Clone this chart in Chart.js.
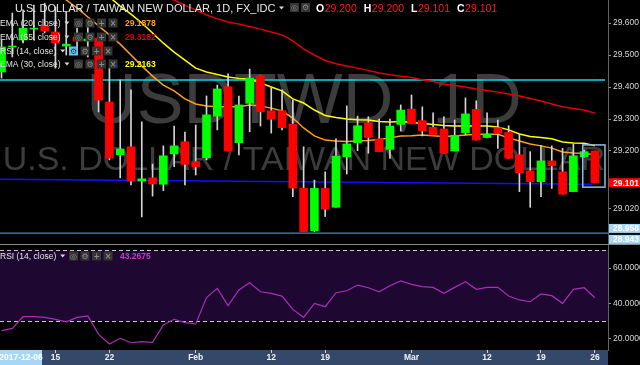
<!DOCTYPE html>
<html>
<head>
<meta charset="utf-8">
<script src="https://cdn.jsdelivr.net/npm/chart.js@4.4.1/dist/chart.umd.min.js"></script>
<style>
  html, body { margin: 0; padding: 0; background: #000; }
  #wrap { position: relative; width: 640px; height: 365px; overflow: hidden; background: #000; }
  canvas { position: absolute; left: 0; }
  #price { top: 0; }
  #rsi { top: 246px; }
</style>
</head>
<body>
<div id="wrap">
  <canvas id="price" width="640" height="246"></canvas>
  <canvas id="rsi" width="640" height="119"></canvas>
</div>
<script>
const FONT = '"Liberation Sans", Arial, sans-serif';

// daily candles, USD/TWD (FX_IDC), 2018-01-08 .. 2018-03-26
const dates = [
  '2018-01-08', '2018-01-09', '2018-01-10', '2018-01-11', '2018-01-12', '2018-01-15', '2018-01-16', '2018-01-17',
  '2018-01-18', '2018-01-19', '2018-01-22', '2018-01-23', '2018-01-24', '2018-01-25', '2018-01-26', '2018-01-29',
  '2018-01-30', '2018-01-31', '2018-02-01', '2018-02-02', '2018-02-05', '2018-02-06', '2018-02-07', '2018-02-08',
  '2018-02-09', '2018-02-12', '2018-02-13', '2018-02-14', '2018-02-15', '2018-02-16', '2018-02-19', '2018-02-20',
  '2018-02-21', '2018-02-22', '2018-02-23', '2018-02-26', '2018-02-27', '2018-02-28', '2018-03-01', '2018-03-02',
  '2018-03-05', '2018-03-06', '2018-03-07', '2018-03-08', '2018-03-09', '2018-03-12', '2018-03-13', '2018-03-14',
  '2018-03-15', '2018-03-16', '2018-03-19', '2018-03-20', '2018-03-21', '2018-03-22', '2018-03-23', '2018-03-26'
];
const opens = [
  29.447, 29.525, 29.547, 29.581, 29.591, 29.572, 29.528, 29.556, 29.544, 29.553,
  29.353, 29.188, 29.213, 29.106, 29.116, 29.096, 29.191, 29.229, 29.167, 29.179,
  29.309, 29.401, 29.226, 29.349, 29.435, 29.326, 29.326, 29.284, 29.084, 28.951,
  29.083, 29.024, 29.182, 29.226, 29.288, 29.238, 29.205, 29.283, 29.331, 29.295,
  29.274, 29.269, 29.200, 29.257, 29.330, 29.242, 29.273, 29.258, 29.188, 29.138,
  29.104, 29.169, 29.135, 29.073, 29.182, 29.200
];
const highs = [
  29.547, 29.631, 29.641, 29.656, 29.662, 29.650, 29.634, 29.584, 29.588, 29.563,
  29.459, 29.422, 29.391, 29.291, 29.159, 29.216, 29.278, 29.259, 29.281, 29.372,
  29.406, 29.441, 29.372, 29.456, 29.435, 29.397, 29.391, 29.359, 29.213, 29.109,
  29.135, 29.238, 29.341, 29.309, 29.307, 29.300, 29.300, 29.344, 29.375, 29.338,
  29.319, 29.307, 29.297, 29.366, 29.357, 29.319, 29.297, 29.279, 29.252, 29.198,
  29.218, 29.216, 29.208, 29.222, 29.203, 29.200
];
const lows = [
  29.428, 29.494, 29.538, 29.547, 29.569, 29.459, 29.500, 29.516, 29.494, 29.322,
  29.172, 29.116, 29.094, 28.994, 29.059, 29.076, 29.151, 29.094, 29.125, 29.172,
  29.266, 29.200, 29.188, 29.260, 29.278, 29.256, 29.266, 29.057, 28.948, 28.948,
  28.995, 29.024, 29.128, 29.201, 29.193, 29.198, 29.177, 29.263, 29.285, 29.247,
  29.250, 29.193, 29.200, 29.250, 29.234, 29.241, 29.208, 29.177, 29.073, 29.024,
  29.057, 29.083, 29.065, 29.073, 29.181, 29.101
];
const closes = [
  29.525, 29.528, 29.584, 29.584, 29.575, 29.538, 29.534, 29.544, 29.550, 29.359,
  29.178, 29.206, 29.106, 29.113, 29.097, 29.185, 29.216, 29.158, 29.151, 29.313,
  29.394, 29.200, 29.344, 29.428, 29.323, 29.299, 29.273, 29.084, 28.948, 29.083,
  29.018, 29.184, 29.222, 29.279, 29.242, 29.198, 29.278, 29.328, 29.285, 29.263,
  29.250, 29.193, 29.249, 29.316, 29.234, 29.253, 29.255, 29.177, 29.132, 29.104,
  29.169, 29.154, 29.065, 29.185, 29.198, 29.101
];
const ema20 = [
  null, null, null, null, null, 29.703, 29.672, 29.647, 29.619, 29.591,
  29.563, 29.534, 29.500, 29.466, 29.434, 29.406, 29.388, 29.363, 29.347, 29.341,
  29.338, 29.338, 29.338, 29.344, 29.341, 29.334, 29.325, 29.303, 29.272, 29.247,
  29.234, 29.231, 29.230, 29.231, 29.233, 29.236, 29.241, 29.247, 29.248, 29.250,
  29.248, 29.245, 29.247, 29.250, 29.252, 29.252, 29.252, 29.241, 29.231, 29.222,
  29.216, 29.209, 29.197, 29.194, 29.193, 29.1878
];
const ema30 = [
  null, null, null, null, null, null, null, null, null, null,
  29.681, 29.653, 29.628, 29.600, 29.569, 29.537, 29.509, 29.484, 29.459, 29.447,
  29.439, 29.431, 29.427, 29.425, 29.413, 29.400, 29.388, 29.363, 29.350, 29.328,
  29.311, 29.305, 29.300, 29.298, 29.297, 29.292, 29.291, 29.292, 29.289, 29.286,
  29.283, 29.280, 29.278, 29.278, 29.278, 29.278, 29.275, 29.266, 29.253, 29.245,
  29.242, 29.238, 29.228, 29.225, 29.224, 29.2163
];
const ema55 = [
  null, null, null, null, null, null, null, null, null, null,
  null, null, null, null, null, 29.681, 29.672, 29.656, 29.641, 29.625,
  29.613, 29.603, 29.597, 29.589, 29.581, 29.572, 29.563, 29.544, 29.519, 29.500,
  29.483, 29.473, 29.466, 29.459, 29.452, 29.444, 29.438, 29.434, 29.430, 29.423,
  29.417, 29.409, 29.405, 29.400, 29.394, 29.389, 29.384, 29.378, 29.372, 29.364,
  29.356, 29.347, 29.338, 29.333, 29.328, 29.3182
];
const rsi14 = [
  24.7, 26.0, 32.6, 32.6, 32.2, 31.1, 29.7, 32.2, 33.0, 22.6,
  17.2, 20.4, 17.9, 18.5, 18.1, 27.9, 31.1, 29.2, 28.5, 43.3,
  48.5, 38.8, 47.6, 51.7, 46.6, 45.7, 44.2, 36.7, 32.2, 40.1,
  38.2, 46.1, 47.2, 50.4, 48.9, 46.6, 50.0, 52.7, 50.8, 49.5,
  49.1, 45.7, 49.1, 52.3, 48.0, 49.1, 49.1, 44.2, 42.0, 41.0,
  45.4, 44.4, 40.1, 48.0, 48.9, 43.2675
];

// axis ticks as shown
const tickIdx = [5, 10, 18, 25, 30, 38, 45, 50, 55];
const tickLabels = ['15', '22', 'Feb', '12', '19', 'Mar', '12', '19', '26'];
const priceTicks = [29.02, 29.2, 29.3, 29.4, 29.5, 29.6];
const rsiTicks = [20, 40, 60];

// drawn levels (index, price)
const resistance = [[-0.14, 29.422], [55.93, 29.422]];
const trendLine = [[-0.14, 29.1115], [54.8, 29.096]];
const support = [[-0.14, 28.943], [56.21, 28.943]];
const markedLow = 28.958;
const lastBox = [53.87, 55.93, 29.219, 29.087];

const X_MIN = -0.14, X_MAX = 56.21;
const UP = '#00ff00', DOWN = '#ff0000';

const pts = arr => arr.map((v, i) => ({ x: i, y: v }));
const seg = arr => arr.map(p => ({ x: p[0], y: p[1] }));
const noPad = s => { s.paddingTop = 0; s.paddingBottom = 0; s.paddingLeft = 0; s.paddingRight = 0; };

function tri(ctx, x, y) {
  ctx.fillStyle = '#d8d8d8';
  ctx.beginPath();
  ctx.moveTo(x, y - 1.5); ctx.lineTo(x + 5, y - 1.5); ctx.lineTo(x + 2.5, y + 1.5);
  ctx.closePath(); ctx.fill();
}

function icon(ctx, x, y, glyph, bg) {
  ctx.save();
  ctx.fillStyle = bg || '#353535';
  ctx.fillRect(x, y - 4.5, 9, 9);
  ctx.fillStyle = bg ? '#20343f' : '#8a8a8a';
  ctx.font = 'bold 8px "DejaVu Sans", sans-serif';
  ctx.textAlign = 'center';
  ctx.textBaseline = 'middle';
  ctx.fillText(glyph, x + 4.5, y + 0.5);
  ctx.restore();
}

function tag(ctx, y, text, bg) {
  ctx.save();
  ctx.fillStyle = bg;
  ctx.fillRect(609, y - 4.5, 31, 9);
  ctx.fillStyle = '#ffffff';
  ctx.font = 'bold 8.5px ' + FONT;
  ctx.textAlign = 'left';
  ctx.textBaseline = 'middle';
  ctx.fillText(text, 613, y + 0.5);
  ctx.restore();
}

function legendRow(ctx, label, ry, icons, x0, value, col) {
  ctx.textAlign = 'left';
  ctx.textBaseline = 'alphabetic';
  ctx.font = '8.5px ' + FONT;
  ctx.fillStyle = '#e4e4e4';
  ctx.fillText(label, 0, ry + 3);
  tri(ctx, ctx.measureText(label).width + 4, ry);
  icons.forEach((g, k) => icon(ctx, x0 + k * 11.5, ry, g, k === 0 && !value ? '#5cc6ef' : null));
  if (value) {
    ctx.font = 'bold 8.5px ' + FONT;
    ctx.fillStyle = col;
    ctx.fillText(value, x0 + 51, ry + 3);
  }
}

const priceDeco = {
  id: 'priceDeco',
  beforeDatasetsDraw(chart) {
    const ctx = chart.ctx;
    ctx.save();
    ctx.fillStyle = '#3c3c3c';
    ctx.textAlign = 'center';
    ctx.textBaseline = 'alphabetic';
    ctx.font = '70px ' + FONT;
    ctx.fillText('USDTWD, 1D', 304, 123);
    ctx.font = '34px ' + FONT;
    ctx.fillText('U.S. DOLLAR / TAIWAN NEW DOLLAR', 304, 170);
    ctx.restore();
  },
  afterDatasetsDraw(chart) {
    const { ctx, scales: { x, y } } = chart;
    ctx.save();
    ctx.strokeStyle = '#8fbbdf';
    ctx.lineWidth = 1.5;
    const x0 = x.getPixelForValue(lastBox[0]), x1 = x.getPixelForValue(lastBox[1]);
    const y0 = y.getPixelForValue(lastBox[2]), y1 = y.getPixelForValue(lastBox[3]);
    ctx.strokeRect(x0, y0, x1 - x0, y1 - y0);
    ctx.restore();
  },
  afterDraw(chart) {
    const { ctx, scales: { y } } = chart;
    ctx.save();
    // price tags on the axis
    const last = closes[closes.length - 1];
    tag(ctx, y.getPixelForValue(last), last.toFixed(3), '#ff0000');
    const yLow = y.getPixelForValue(markedLow);
    tag(ctx, yLow, markedLow.toFixed(3), '#a6d6f3');
    tag(ctx, Math.max(y.getPixelForValue(support[0][1]), yLow + 11), support[0][1].toFixed(3), '#a6d6f3');

    // pane separator
    ctx.strokeStyle = '#8a8a8a';
    ctx.lineWidth = 1;
    ctx.beginPath(); ctx.moveTo(0, 244.5); ctx.lineTo(640, 244.5); ctx.stroke();

    // header
    ctx.textAlign = 'left';
    ctx.textBaseline = 'alphabetic';
    ctx.font = '11px ' + FONT;
    ctx.fillStyle = '#e8e8e8';
    ctx.fillText('U.S. DOLLAR / TAIWAN NEW DOLLAR, 1D, FX_IDC', 15, 12);
    tri(ctx, 279, 8);
    icon(ctx, 290, 7.5, '\u25CE');
    icon(ctx, 301, 7.5, '\u2699');
    let cx = 316;
    const ohlc = [['O', opens], ['H', highs], ['L', lows], ['C', closes]];
    ohlc.forEach(([k, arr]) => {
      ctx.textAlign = 'left';
      ctx.textBaseline = 'alphabetic';
      ctx.font = 'bold 10.5px ' + FONT;
      ctx.fillStyle = '#ffffff';
      ctx.fillText(k, cx, 12);
      cx += ctx.measureText(k).width + 0.5;
      ctx.font = '10.5px ' + FONT;
      ctx.fillStyle = '#ff1a1a';
      const t = arr[arr.length - 1].toFixed(3);
      ctx.fillText(t, cx, 12);
      cx += ctx.measureText(t).width + 7;
    });

    // indicator legend
    const ic = ['\u25CE', '\u2699', '+', '\u00D7'];
    legendRow(ctx, 'EMA (20, close)', 23, ic, 74, ema20[ema20.length - 1].toFixed(4), '#ff9f1a');
    legendRow(ctx, 'EMA (55, close)', 37, ic, 74, ema55[ema55.length - 1].toFixed(4), '#e00000');
    legendRow(ctx, 'RSI (14, close)', 51, ['\u2699', '\u2699', '+', '\u00D7'], 69, null, null);
    legendRow(ctx, 'EMA (30, close)', 64, ic, 74, ema30[ema30.length - 1].toFixed(4), '#ffff00');
    ctx.restore();
  }
};

new Chart(document.getElementById('price').getContext('2d'), {
  type: 'bar',
  data: {
    datasets: [
      {
        label: 'bodies',
        data: opens.map((o, i) => ({ x: i, y: [o, closes[i]] })),
        backgroundColor: opens.map((o, i) => closes[i] >= o ? UP : DOWN),
        barThickness: 8,
        minBarLength: 1,
        grouped: false,
        order: 1
      },
      {
        label: 'wicks',
        data: lows.map((l, i) => ({ x: i, y: [l, highs[i]] })),
        backgroundColor: '#d4d4d4',
        barThickness: 1,
        grouped: false,
        order: 2
      },
      { type: 'line', label: 'EMA 20', data: pts(ema20), borderColor: '#ff9f1a', borderWidth: 1.5, pointRadius: 0, order: 5 },
      { type: 'line', label: 'EMA 30', data: pts(ema30), borderColor: '#ffff00', borderWidth: 1.5, pointRadius: 0, order: 6 },
      { type: 'line', label: 'EMA 55', data: pts(ema55), borderColor: '#e00000', borderWidth: 1.5, pointRadius: 0, order: 7 },
      { type: 'line', label: 'resistance', data: seg(resistance), borderColor: '#00e1ee', borderWidth: 1.5, pointRadius: 0, order: 8 },
      { type: 'line', label: 'trend', data: seg(trendLine), borderColor: '#1010ff', borderWidth: 1.5, pointRadius: 0, order: 8 },
      { type: 'line', label: 'support', data: seg(support), borderColor: '#4f7fbf', borderWidth: 1.2, pointRadius: 0, order: 8 }
    ]
  },
  options: {
    responsive: false,
    animation: false,
    events: [],
    layout: { padding: 0, autoPadding: false },
    plugins: { legend: { display: false }, tooltip: { enabled: false } },
    scales: {
      x: { type: 'linear', min: X_MIN, max: X_MAX, offset: false, display: false },
      y: {
        position: 'right',
        min: 28.903,
        max: 29.672,
        afterFit(s) { s.width = 32; noPad(s); },
        afterBuildTicks(s) { s.ticks = priceTicks.map(v => ({ value: v })); },
        ticks: { color: '#d8d8d8', font: { family: FONT, size: 8.5 }, padding: 2, callback: v => v.toFixed(3) },
        grid: { drawOnChartArea: false, tickLength: 3, color: '#9a9a9a' },
        border: { display: true, color: '#626262' }
      }
    }
  },
  plugins: [priceDeco]
});

const rsiDeco = {
  id: 'rsiDeco',
  beforeDraw(chart) {
    const { ctx, chartArea: a } = chart;
    ctx.save();
    ctx.fillStyle = '#34486a';
    ctx.fillRect(0, a.bottom, a.right, chart.height - a.bottom);
    ctx.restore();
  },
  beforeDatasetsDraw(chart) {
    const { ctx, chartArea: a, scales: { y } } = chart;
    const top = y.getPixelForValue(70), bot = y.getPixelForValue(30);
    ctx.save();
    ctx.fillStyle = '#1e0730';
    ctx.fillRect(a.left, top, a.right - a.left, bot - top);
    ctx.strokeStyle = '#c8c8c8';
    ctx.lineWidth = 1;
    ctx.setLineDash([4, 3]);
    [top, bot].forEach(py => {
      ctx.beginPath();
      ctx.moveTo(a.left, Math.round(py) + 0.5);
      ctx.lineTo(a.right, Math.round(py) + 0.5);
      ctx.stroke();
    });
    ctx.restore();
  },
  afterDraw(chart) {
    const { ctx, chartArea: a } = chart;
    ctx.save();
    // left date flag
    ctx.fillStyle = '#a6d8f5';
    ctx.fillRect(0, a.bottom, 42, chart.height - a.bottom);
    ctx.fillStyle = '#ffffff';
    ctx.font = 'bold 8.5px ' + FONT;
    ctx.textAlign = 'center';
    ctx.textBaseline = 'middle';
    ctx.fillText('2017-12-06', 21, a.bottom + 8);
    // legend
    legendRow(ctx, 'RSI (14, close)', 10, ['\u25CE', '\u2699', '+', '\u00D7'], 69,
      rsi14[rsi14.length - 1].toFixed(4), '#c23cc9');
    ctx.restore();
  }
};

new Chart(document.getElementById('rsi').getContext('2d'), {
  type: 'line',
  data: {
    datasets: [
      { label: 'RSI', data: pts(rsi14), borderColor: '#a82fb8', borderWidth: 1.2, pointRadius: 0, tension: 0 }
    ]
  },
  options: {
    responsive: false,
    animation: false,
    events: [],
    layout: { padding: 0, autoPadding: false },
    plugins: { legend: { display: false }, tooltip: { enabled: false } },
    scales: {
      x: {
        type: 'linear',
        min: X_MIN,
        max: X_MAX,
        offset: false,
        afterFit(s) { s.height = 15; noPad(s); },
        afterBuildTicks(s) { s.ticks = tickIdx.map(v => ({ value: v })); },
        ticks: {
          color: '#f2f2f2', font: { family: FONT, size: 8.5, weight: 'bold' }, padding: 0,
          autoSkip: false, maxRotation: 0, callback: (v, k) => tickLabels[k]
        },
        grid: { drawOnChartArea: false, tickLength: 3, color: '#d0d0d0' },
        border: { display: false }
      },
      y: {
        position: 'right',
        min: 13.8,
        max: 72.4,
        afterFit(s) { s.width = 32; noPad(s); },
        afterBuildTicks(s) { s.ticks = rsiTicks.map(v => ({ value: v })); },
        ticks: { color: '#d8d8d8', font: { family: FONT, size: 8.5 }, padding: 2, callback: v => v.toFixed(4) },
        grid: { drawOnChartArea: false, tickLength: 3, color: '#9a9a9a' },
        border: { display: true, color: '#626262' }
      }
    }
  },
  plugins: [rsiDeco]
});
</script>
</body>
</html>
